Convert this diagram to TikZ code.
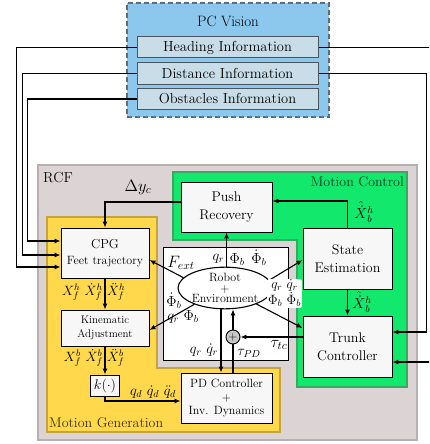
\RequirePackage{fix-cm}
\documentclass[tikz,border=0pt]{standalone}
\usetikzlibrary{arrows.meta,shapes.geometric,calc}
\definecolor{visionfill}{HTML}{8CC8EE}
\definecolor{visionedge}{HTML}{5F6B75}
\definecolor{infofill}{HTML}{C9DDE8}
\definecolor{infoedge}{HTML}{4A5560}
\definecolor{rcffill}{HTML}{DCD4D4}
\definecolor{rcfedge}{HTML}{B8B0B0}
\definecolor{mcfill}{HTML}{12E86C}
\definecolor{mcedge}{HTML}{3AA860}
\definecolor{mgfill}{HTML}{FFD84C}
\definecolor{mgedge}{HTML}{C4A43E}
\definecolor{blkfill}{HTML}{F7F7F7}
\definecolor{sumfill}{HTML}{C8C8C8}
\definecolor{mctext}{HTML}{103A20}
\definecolor{mgtext}{HTML}{3A3010}

\tikzset{
  blk/.style={draw=black,line width=0.9pt,fill=blkfill,inner sep=0pt,align=center,
    font=\fontsize{14}{18}\selectfont},
  info/.style={draw=infoedge,line width=1pt,fill=infofill,inner sep=0pt,
    minimum width=181pt,minimum height=21pt,font=\fontsize{14.5}{16}\selectfont},
  region/.style={inner sep=0pt},
  wire/.style={line width=1.1pt,-{Latex[length=6pt,width=5pt]}},
  plain/.style={line width=1.1pt},
  lbl/.style={inner sep=0pt,font=\fontsize{14.5}{16}\selectfont},
  smlbl/.style={inner sep=0pt,font=\fontsize{13.5}{15}\selectfont},
  biglbl/.style={inner sep=0pt,font=\fontsize{16.5}{18}\selectfont},
}

\begin{document}
\begin{tikzpicture}[x=1pt,y=-1pt]
\useasboundingbox (0,0) rectangle (429,444);
\clip (0,0) rectangle (429,444);

% vision module
\node[region,draw=visionedge,fill=visionfill,line width=1.2pt,dash pattern=on 5pt off 3pt,
  minimum width=202pt,minimum height=114pt] (pcv) at (228,60) {};
\node[inner sep=0pt,font=\fontsize{15}{17}\selectfont] (pctitle) at (228,21) {PC Vision};
\node[info] (heading) at (227.5,47.5) {Heading Information};
\node[info] (distance) at (227.5,73.5) {Distance Information};
\node[info] (obstacles) at (227.5,99) {Obstacles Information};

% reflex / control frame
\node[region,draw=rcfedge,fill=rcffill,line width=2.5pt,
  minimum width=379pt,minimum height=275pt] (rcf) at (227.5,302.5) {};
\node[inner sep=0pt,anchor=west,font=\fontsize{14.5}{16}\selectfont] (rcflabel) at (43,178) {RCF};

% motion control (L-shaped region around the robot box)
\draw[draw=mcedge,fill=mcfill,line width=1.6pt]
  (173,172) -- (407,172) -- (407,387) -- (297,387) -- (297,240) -- (173,240) -- cycle;
\node[inner sep=0pt,anchor=east,text=mctext,font=\fontsize{14}{16}\selectfont] (mclabel) at (404,182) {Motion Control};

% motion generation (L-shaped region below and left of the robot box)
\draw[draw=mgedge,fill=mgfill,line width=1.6pt]
  (47,217) -- (157,217) -- (157,368) -- (280,368) -- (280,432) -- (47,432) -- cycle;
\node[inner sep=0pt,anchor=west,text=mgtext,font=\fontsize{14}{16}\selectfont] (mglabel) at (49,423) {Motion Generation};

% robot and environment
\node[region,draw=black,fill=white,line width=0.9pt,
  minimum width=125pt,minimum height=113pt] (robbox) at (225.5,303.5) {};
\node[ellipse,draw=black,line width=1.1pt,fill=white,inner sep=0pt,
  minimum width=85pt,minimum height=37pt,align=center,
  font=\fontsize{12}{10.5}\selectfont] (robot) at (225,288) {Robot\\+\\Environment};

% blocks
\node[blk,minimum width=91pt,minimum height=50pt] (push) at (226.5,207) {Push\\Recovery};
\node[blk,minimum width=89pt,minimum height=61pt] (state) at (347.5,258.5) {State\\Estimation};
\node[blk,minimum width=89pt,minimum height=61pt] (trunk) at (347.5,346.5) {Trunk\\Controller};
\node[blk,minimum width=88pt,minimum height=50pt,font=\fontsize{13}{16}\selectfont] (cpg) at (105,253)
  {CPG\\{\fontsize{12}{14}\selectfont Feet trajectory}};
\node[blk,minimum width=88pt,minimum height=36pt,font=\fontsize{11}{14}\selectfont] (kin) at (105,328)
  {Kinematic\\Adjustment};
\node[blk,minimum width=29pt,minimum height=21pt,font=\fontsize{14}{15}\selectfont] (kfun) at (105,385.5)
  {$k(\cdot)$};
\node[blk,minimum width=91pt,minimum height=50pt,font=\fontsize{12}{13.5}\selectfont] (pd) at (226.5,398)
  {PD Controller\\+\\Inv. Dynamics};
\node[circle,draw=black,line width=0.9pt,fill=sumfill,minimum size=14pt,inner sep=0pt,
  font=\fontsize{12}{12}\selectfont] (sum) at (233,337) {$+$};

% vision outputs
\draw[wire] (heading.west) -| ++(-120,20) |- ([yshift=-14pt]cpg.west);
\draw[wire] (distance.west) -| ++(-114,20) |- ([yshift=-2pt]cpg.west);
\draw[wire] (obstacles.west) -| ++(-109,20) |- ([yshift=12pt]cpg.west);
\draw[wire] (heading.east) -| ++(115,30) |- ([yshift=-15.5pt]trunk.east);
\draw[wire] (distance.east) -| ++(107.7,20) |- ([yshift=14.5pt]trunk.east);

% motion control loop
\draw[wire] ([yshift=5pt]push.west) -| (cpg.north);
\node[biglbl] (dyc) at (138,187) {$\Delta y_c$};
\draw[wire] (state.north) |- ([yshift=6pt]push.east);
\node[lbl] (xh1) at (364,212) {$\hat{\dot{X}}{}^{h}_{b}$};
\draw[wire] (state.south) -- (trunk.north);
\node[lbl] (xh2) at (362,302) {$\hat{\dot{X}}{}^{h}_{b}$};

% robot outputs
\draw[wire] (push.south |- robot.north) -- (push.south);
\node[lbl,anchor=east] (qtop) at (224.5,259) {$q_r$};
\node[lbl,anchor=west] (phitop) at (229.5,258) {$\Phi_b\;\,\dot\Phi_b$};
\draw[wire] (robot.166) -- ([yshift=-7pt]cpg.east);
\node[biglbl] (fext) at (181,263) {$F_{ext}$};
\draw[wire] (robot.208) -- ([yshift=-2pt]kin.east);
\node[lbl] (dphil) at (174,301) {$\dot\Phi_b$};
\node[lbl] (qphil) at (183,317) {$q_r\ \Phi_b$};
\draw[wire] (robot.10) -- ([yshift=-1.5pt]state.west);
\draw[wire] (robot.-27) -- ([yshift=18.5pt]trunk.west);
\node[fill=white,rounded corners=2pt,inner sep=1pt,align=center,
  font=\fontsize{13.5}{13}\selectfont] (qright) at (284.5,293.5) {$q_r\ \dot q_r$\\$\Phi_b\ \dot\Phi_b$};

% joint level loop
\draw[wire] ([xshift=-5.5pt]pd.north |- robot.south) -- ([xshift=-5.5pt]pd.north);
\node[lbl] (qbot) at (204,350) {$q_r\ \dot q_r$};
\draw[plain] ([xshift=6.5pt]pd.north) -- (sum.south);
\draw[wire] (sum.north) -- (sum.north |- robot.south);
\node[lbl] (tpd) at (249,353) {$\tau_{PD}$};
\draw[wire] (trunk.west |- sum.east) -- (sum.east);
\node[biglbl] (ttc) at (279,345) {$\tau_{tc}$};

% motion generation chain
\draw[wire] (cpg.south) -- (kin.north);
\node[smlbl,anchor=east] (xhl) at (103,292) {$X^h_f\ \dot X^h_f$};
\node[smlbl,anchor=west] (xhr) at (107,292) {$\ddot X^h_f$};
\draw[wire] (kin.south) -- (kfun.north);
\node[smlbl,anchor=east] (xbl) at (103,358) {$X^b_f\ \dot X^b_f$};
\node[smlbl,anchor=west] (xbr) at (107,358) {$\ddot X^b_f$};
\draw[wire] (kfun.south) |- ([yshift=-3pt]pd.west);
\node[lbl] (qd) at (153,392) {$q_d\ \dot q_d\ \ddot q_d$};
\end{tikzpicture}
\end{document}
